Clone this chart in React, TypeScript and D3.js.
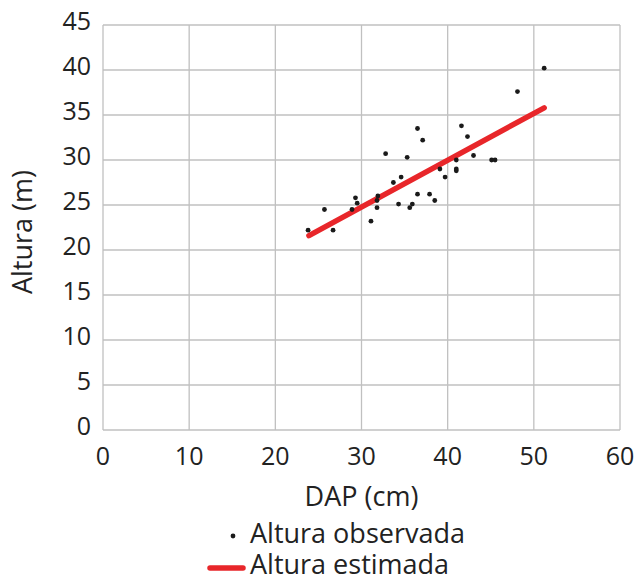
import * as d3 from "d3";
import React from "react";

// observed DAP (cm) / height (m)
const dapObs = [
  23.8, 25.7, 26.7, 28.9, 29.3, 29.5, 31.1, 31.8, 31.9, 31.8, 32.8, 33.7, 34.3, 34.6, 35.3, 35.6, 35.9,
  36.5, 36.5, 37.1, 37.9, 38.5, 39.1, 39.7, 41.0, 41.0, 41.0, 41.6, 42.3, 43.0, 45.1, 45.5, 48.1, 51.2,
];
const alturaObs = [
  22.2, 24.5, 22.2, 24.5, 25.8, 25.2, 23.2, 25.5, 26.0, 24.7, 30.7, 27.5, 25.1, 28.1, 30.3, 24.7, 25.1,
  33.5, 26.2, 32.2, 26.2, 25.5, 29.0, 28.1, 30.0, 29.0, 28.8, 33.8, 32.6, 30.5, 30.0, 30.0, 37.6, 40.2,
];
// fitted line endpoints
const dapEst = [23.9, 51.2];
const alturaEst = [21.6, 35.8];

const xTicks = [0, 10, 20, 30, 40, 50, 60];
const yTicks = [0, 5, 10, 15, 20, 25, 30, 35, 40, 45];

const legendLabels = ["Altura observada", "Altura estimada"];

const FONT = "'Open Sans', sans-serif";
const TEXT = "#222";
const GRID = "#c0c0c0";
const RED = "#e8262a";

export default function App(): React.ReactElement {
  const width = 638;
  const height = 577;
  const margin = { left: 103, right: 18, top: 25, bottom: 147 };

  const x = d3.scaleLinear().domain([0, 60]).range([margin.left, width - margin.right]);
  const y = d3.scaleLinear().domain([0, 45]).range([height - margin.bottom, margin.top]);

  const obs = dapObs.map((d, i) => ({ d, h: alturaObs[i] }));
  const est = dapEst.map((d, i) => ({ d, h: alturaEst[i] }));

  const line = d3
    .line<{ d: number; h: number }>()
    .x((p) => x(p.d))
    .y((p) => y(p.h));

  return (
    <svg
      width={width}
      height={height}
      style={{ position: "absolute", left: 0, top: 0, background: "#fff" }}
      fontFamily={FONT}
    >
      {/* grid */}
      {yTicks.map((t) => (
        <line key={`gy-${t}`} x1={x(0)} x2={x(60)} y1={y(t)} y2={y(t)} stroke={GRID} strokeWidth={1.3} />
      ))}
      {xTicks.map((t) => (
        <line key={`gx-${t}`} x1={x(t)} x2={x(t)} y1={y(0)} y2={y(45)} stroke={GRID} strokeWidth={1.3} />
      ))}

      {/* y tick labels */}
      {yTicks.map((t) => (
        <text key={`yt-${t}`} x={x(0) - 12} y={y(t) + 5} fontSize={25} fill={TEXT} textAnchor="end">
          {t}
        </text>
      ))}
      {/* x tick labels */}
      {xTicks.map((t) => (
        <text key={`xt-${t}`} x={x(t)} y={y(0) + 35} fontSize={25} fill={TEXT} textAnchor="middle">
          {t}
        </text>
      ))}

      {/* axis titles */}
      <text x={(x(0) + x(60)) / 2} y={506} fontSize={27} fill={TEXT} textAnchor="middle">
        DAP (cm)
      </text>
      <text
        transform={`translate(32,${y(22.0)}) rotate(-90)`}
        fontSize={27}
        fill={TEXT}
        textAnchor="middle"
      >
        Altura (m)
      </text>

      {/* estimated line */}
      <path d={line(est) ?? ""} fill="none" stroke={RED} strokeWidth={5.5} strokeLinecap="round" />

      {/* observed points */}
      {obs.map((p, i) => (
        <circle key={`p-${i}`} cx={x(p.d)} cy={y(p.h)} r={2.4} fill="#1a1a1a" />
      ))}

      {/* legend */}
      <circle cx={233} cy={536} r={2.4} fill="#1a1a1a" />
      <text x={250} y={543} fontSize={27} fill={TEXT}>
        {legendLabels[0]}
      </text>
      <line x1={210} x2={243} y1={568} y2={568} stroke={RED} strokeWidth={5.5} strokeLinecap="round" />
      <text x={250} y={574} fontSize={27} fill={TEXT}>
        {legendLabels[1]}
      </text>
    </svg>
  );
}
